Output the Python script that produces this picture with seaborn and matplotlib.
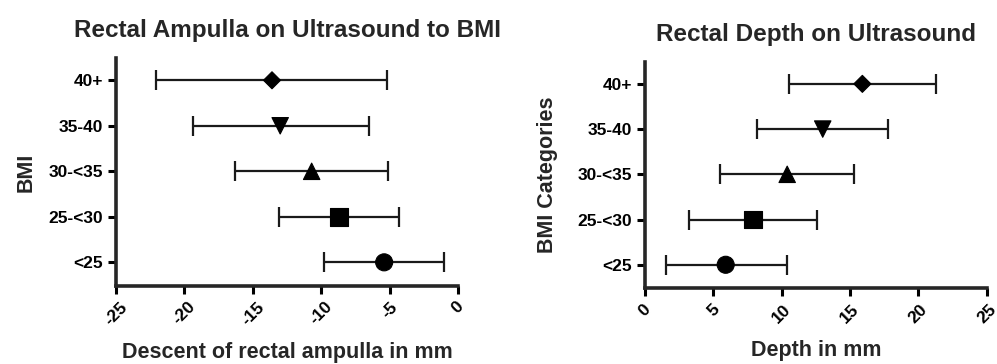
import matplotlib
matplotlib.use("Agg")
import matplotlib.pyplot as plt
import numpy as np
import pandas as pd
import seaborn as sns

# ── datos ───────────────────────────────────────────────────────────────────
categorias = ['<25', '25-<30', '30-<35', '35-40', '40+']
marcadores = ['o', 's', '^', 'v', 'D']
tamanos = [150, 160, 140, 140, 75]

descenso_media = [-5.4, -8.7, -10.7, -13.0, -13.6]
descenso_bajo = [-9.8, -13.1, -16.3, -19.4, -22.1]
descenso_alto = [-1.0, -4.3, -5.1, -6.5, -5.2]

profundidad_media = [5.9, 7.9, 10.4, 13.0, 15.9]
profundidad_bajo = [1.5, 3.2, 5.5, 8.2, 10.5]
profundidad_alto = [10.4, 12.6, 15.3, 17.8, 21.3]

sns.set_style('ticks')
plt.rcParams['font.family'] = ['Liberation Sans', 'DejaVu Sans']
plt.rcParams['font.weight'] = 'bold'

fig = plt.figure(figsize=(9.97, 3.64), dpi=100)
ax1 = fig.add_axes([0.1164, 0.2143, 0.3430, 0.6264])
ax2 = fig.add_axes([0.6470, 0.2080, 0.3427, 0.6225])


def panel(ax, media, bajo, alto, xlim, xticks, titulo, xlabel, ylabel, ypad):
    df = pd.DataFrame({'bmi': categorias, 'media': media, 'bajo': bajo, 'alto': alto})
    ax.errorbar(df['media'], df['bmi'],
                xerr=[df['media'] - df['bajo'], df['alto'] - df['media']],
                fmt='none', ecolor='#1a1a1a', elinewidth=1.6, capsize=7.5,
                capthick=1.6, zorder=2)
    sns.scatterplot(data=df, x='media', y='bmi', style='bmi', size='bmi',
                    markers=dict(zip(categorias, marcadores)),
                    sizes=dict(zip(categorias, tamanos)), color='black',
                    edgecolor='black', legend=False, ax=ax, zorder=3)
    ax.set_ylim(-0.52, 4.49)
    ax.set_xlim(*xlim)
    ax.set_xticks(xticks)
    ax.set_xticklabels([str(t) for t in xticks], rotation=45, ha='center',
                       fontsize=12.5, fontweight='bold')
    for lbl in ax.get_yticklabels():
        lbl.set_fontsize(12.5)
        lbl.set_fontweight('bold')
    ax.set_title(titulo, fontsize=17.5, fontweight='bold', pad=15)
    ax.set_xlabel(xlabel, fontsize=15.5, fontweight='bold', labelpad=10)
    ax.set_ylabel(ylabel, fontsize=15.5, fontweight='bold', labelpad=ypad)
    for lado in ['top', 'right']:
        ax.spines[lado].set_visible(False)
    for lado in ['left', 'bottom']:
        ax.spines[lado].set_linewidth(2.6)
    ax.tick_params(width=2.2, length=6, colors='black', direction='out')


panel(ax1, descenso_media, descenso_bajo, descenso_alto, (-25, 0),
      [-25, -20, -15, -10, -5, 0], 'Rectal Ampulla on Ultrasound to BMI',
      'Descent of rectal ampulla in mm', 'BMI', 8)
panel(ax2, profundidad_media, profundidad_bajo, profundidad_alto, (0, 25),
      [0, 5, 10, 15, 20, 25], 'Rectal Depth on Ultrasound',
      'Depth in mm', 'BMI Categories', 14)

fig.savefig('out.png', dpi=100)
